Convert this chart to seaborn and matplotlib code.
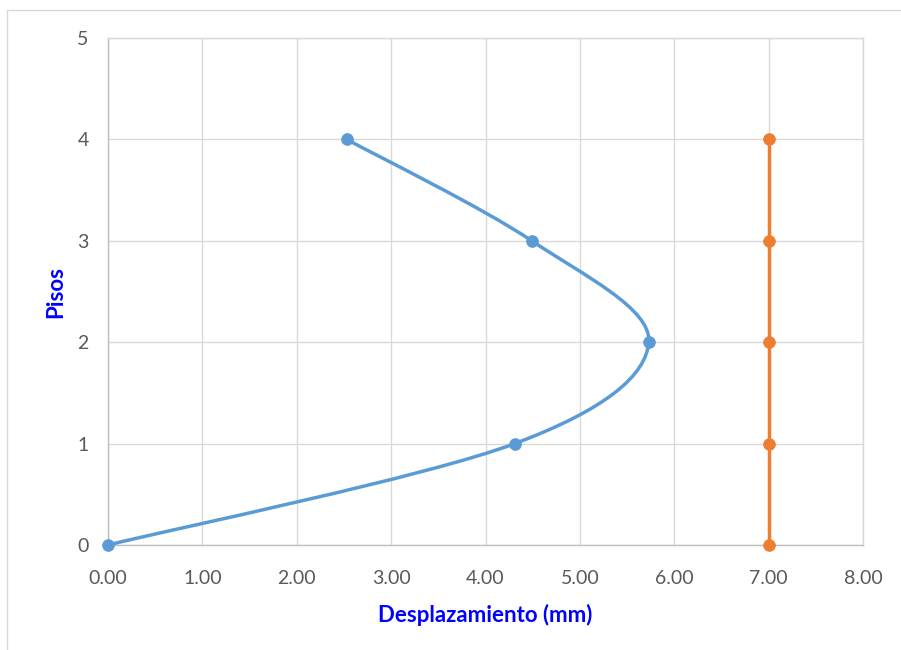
import numpy as np
import pandas as pd
import seaborn as sns
import matplotlib
matplotlib.use("Agg")
import matplotlib.pyplot as plt
from matplotlib.path import Path
from matplotlib.patches import PathPatch, Rectangle

# desplazamientos por piso
pisos = [0, 1, 2, 3, 4]
desplazamiento = [0.00, 4.31, 5.73, 4.49, 2.53]
limite = [7.00, 7.00, 7.00, 7.00, 7.00]

x_ticks = [0, 1, 2, 3, 4, 5, 6, 7, 8]
y_ticks = [0, 1, 2, 3, 4, 5]

azul = "#5B9BD5"
naranja = "#ED7D31"

sns.set_style("white")
plt.rcParams["font.family"] = ["Lato", "DejaVu Sans"]

df = pd.DataFrame({"x": desplazamiento, "y": pisos})
df_lim = pd.DataFrame({"x": limite, "y": pisos})


def smooth_path(xs, ys):
    # curva suave tipo Excel (Catmull-Rom -> Bezier)
    pts = np.column_stack([xs, ys]).astype(float)
    n = len(pts)
    verts = [pts[0]]
    codes = [Path.MOVETO]
    for i in range(n - 1):
        p0 = pts[i - 1] if i > 0 else pts[i]
        p1 = pts[i]
        p2 = pts[i + 1]
        p3 = pts[i + 2] if i + 2 < n else pts[i + 1]
        c1 = p1 + (p2 - p0) / 6.0
        c2 = p2 - (p3 - p1) / 6.0
        verts += [c1, c2, p2]
        codes += [Path.CURVE4] * 3
    return Path(verts, codes)


fig = plt.figure(figsize=(9.01, 6.5), dpi=100)
ax = fig.add_axes([108 / 901, 105 / 650, 755 / 901, 507 / 650])

# borde del grafico
fig.patches.append(Rectangle((7 / 901, -0.1), 1.2, 640 / 650 + 0.1, transform=fig.transFigure,
                             fill=False, edgecolor="#D9D9D9", linewidth=1.0, zorder=0))

ax.add_patch(PathPatch(smooth_path(desplazamiento, pisos), fill=False, edgecolor=azul,
                       linewidth=2.5, capstyle="round", zorder=3))
sns.scatterplot(data=df, x="x", y="y", ax=ax, color=azul, s=70, edgecolor=azul, zorder=4, clip_on=False)

sns.lineplot(data=df_lim, x="x", y="y", ax=ax, color=naranja, linewidth=2.5, sort=False,
             estimator=None, zorder=3)
sns.scatterplot(data=df_lim, x="x", y="y", ax=ax, color=naranja, s=70, edgecolor=naranja,
                zorder=4, clip_on=False)

ax.set_xlim(0, 8)
ax.set_ylim(0, 5)
ax.set_xticks(x_ticks)
ax.set_xticklabels([f"{v:.2f}" for v in x_ticks])
ax.set_yticks(y_ticks)
ax.grid(True, color="#D9D9D9", linewidth=1.0)
ax.set_axisbelow(True)
for s in ax.spines.values():
    s.set_color("#D9D9D9")
    s.set_linewidth(1.0)
ax.spines["left"].set_color("#BFBFBF")
ax.spines["bottom"].set_color("#BFBFBF")
ax.tick_params(axis="x", length=0, labelsize=14, colors="#595959", pad=18)
ax.tick_params(axis="y", length=0, labelsize=14, colors="#595959", pad=14)

ax.set_xlabel("Desplazamiento (mm)", color="#0000FF", fontsize=16, fontweight="bold", labelpad=12)
ax.set_ylabel("Pisos", color="#0000FF", fontsize=16, fontweight="bold", labelpad=8)

fig.savefig("out.png", dpi=100)
